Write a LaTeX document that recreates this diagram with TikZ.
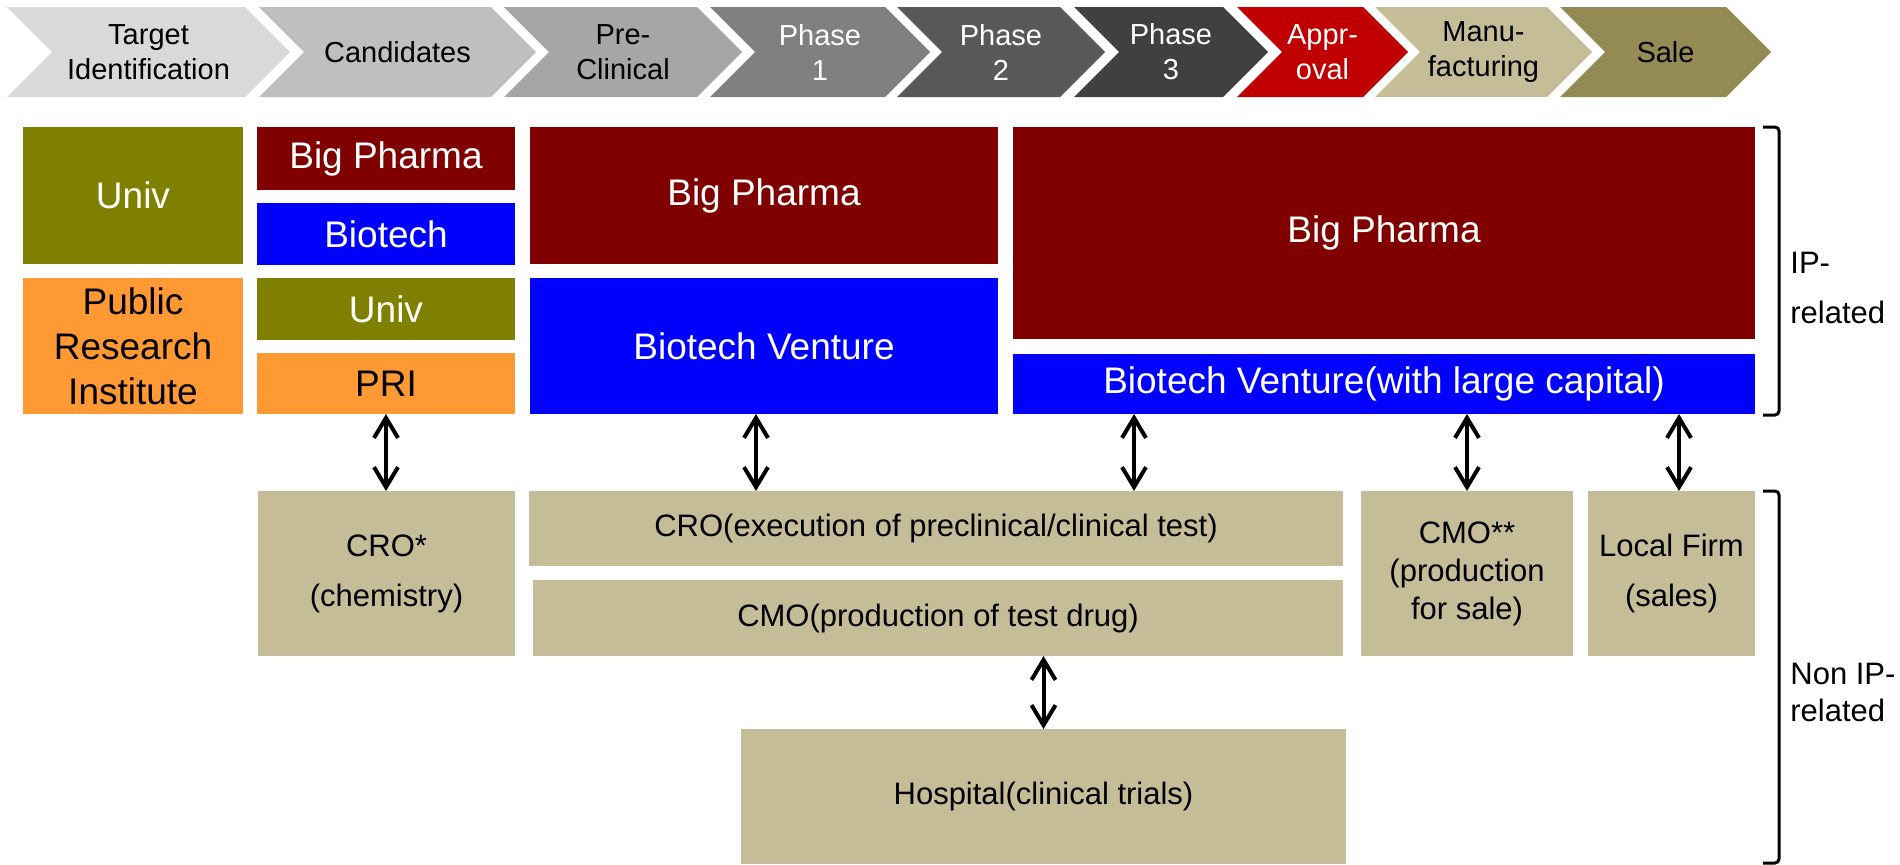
\documentclass[tikz,border=0pt]{standalone}
\usepackage{fontspec}
\setmainfont{Liberation Sans}
\usetikzlibrary{arrows.meta}

\definecolor{pharmared}{HTML}{800000}
\definecolor{biotechblue}{HTML}{0000FF}
\definecolor{univolive}{HTML}{808000}
\definecolor{priorange}{HTML}{FF9933}
\definecolor{servicetan}{HTML}{C4BD97}
\definecolor{approvalred}{HTML}{C00000}
\definecolor{saleolive}{HTML}{948A54}

\begin{document}
\begin{tikzpicture}[x=0.5pt, y=-0.5pt,
    stage/.style={align=center, font=\fontsize{14.5}{17.5}\selectfont},
    actor/.style={rectangle, inner sep=0pt, outer sep=0pt, align=center,
        text=white, font=\fontsize{18.5}{22.5}\selectfont},
    service/.style={rectangle, fill=servicetan, inner sep=0pt, outer sep=0pt,
        align=center, font=\fontsize{15.5}{19}\selectfont},
    side/.style={anchor=west, align=left, inner sep=0pt,
        font=\fontsize{15.5}{18.5}\selectfont},
    duplex/.style={line width=2pt,
        {Straight Barb[length=10pt,width=12pt]}-{Straight Barb[length=10pt,width=12pt]}},
    bracket/.style={line width=1.5pt, rounded corners=2pt}]
        \useasboundingbox (0,0) rectangle (1900,864);
        % stage chevrons along the top, with labels
        \fill[black!15] (7,7) -- ++(238,0) -- ++(45,45) -- ++(-45,45) -- ++(-238,0) -- ++(45,-45) -- cycle;
        \node[stage] (target) at (148.5,52) {Target\\Identification};
        \fill[black!25] (259,7) -- ++(232,0) -- ++(45,45) -- ++(-45,45) -- ++(-232,0) -- ++(45,-45) -- cycle;
        \node[stage] (cand) at (397.5,52) {Candidates};
        \fill[black!35] (504,7) -- ++(193,0) -- ++(45,45) -- ++(-45,45) -- ++(-193,0) -- ++(45,-45) -- cycle;
        \node[stage] (precl) at (623,52) {Pre-\\Clinical};
        \fill[black!50] (710,7) -- ++(175,0) -- ++(45,45) -- ++(-45,45) -- ++(-175,0) -- ++(45,-45) -- cycle;
        \node[stage, text=white] (ph1) at (820,52) {Phase\\1};
        \fill[black!65] (897,7) -- ++(163,0) -- ++(45,45) -- ++(-45,45) -- ++(-163,0) -- ++(45,-45) -- cycle;
        \node[stage, text=white] (ph2) at (1001,52) {Phase\\2};
        \fill[black!75] (1074,7) -- ++(149,0) -- ++(45,45) -- ++(-45,45) -- ++(-149,0) -- ++(45,-45) -- cycle;
        \node[stage, text=white] (ph3) at (1171,52) {Phase\\3};
        \fill[approvalred] (1237,7) -- ++(126,0) -- ++(45,45) -- ++(-45,45) -- ++(-126,0) -- ++(45,-45) -- cycle;
        \node[stage, text=white] (appr) at (1322.5,52) {Appr-\\oval};
        \fill[servicetan] (1375,7) -- ++(172,0) -- ++(45,45) -- ++(-45,45) -- ++(-172,0) -- ++(45,-45) -- cycle;
        \node[stage] (manu) at (1483.5,52) {Manu-\\facturing};
        \fill[saleolive] (1560,7) -- ++(166,0) -- ++(45,45) -- ++(-45,45) -- ++(-166,0) -- ++(45,-45) -- cycle;
        \node[stage] (sale) at (1665.5,52) {Sale};
        % target identification column
        \node[actor, fill=univolive, minimum width=110pt, minimum height=68.5pt] (univ1) at (133,195.5) {Univ};
        \node[actor, fill=priorange, text=black, minimum width=110pt, minimum height=68pt] (pri1) at (133,346) {Public\\Research\\Institute};
        % candidates column
        \node[actor, fill=pharmared, minimum width=129pt, minimum height=31.5pt] (pharma1) at (386,158.5) {Big Pharma};
        \node[actor, fill=biotechblue, minimum width=129pt, minimum height=31pt] (biotech1) at (386,234) {Biotech};
        \node[actor, fill=univolive, minimum width=129pt, minimum height=31pt] (univ2) at (386,309) {Univ};
        \node[actor, fill=priorange, text=black, minimum width=129pt, minimum height=30.5pt] (pri2) at (386,383.5) {PRI};
        % preclinical to phase 1
        \node[actor, fill=pharmared, minimum width=234pt, minimum height=68.5pt] (pharma2) at (764,195.5) {Big Pharma};
        \node[actor, fill=biotechblue, minimum width=234pt, minimum height=68pt] (venture1) at (764,346) {Biotech Venture};
        % phase 2 to sale
        \node[actor, fill=pharmared, minimum width=371pt, minimum height=106pt] (pharma3) at (1384,233) {Big Pharma};
        \node[actor, fill=biotechblue, minimum width=371pt, minimum height=30pt] (venture2) at (1384,384) {Biotech Venture(with large capital)};
        % non IP-related service firms
        \node[service, minimum width=128.5pt, minimum height=82.5pt] (cro1) at (386.5,573.5) {CRO*\\[6pt](chemistry)};
        \node[service, minimum width=407pt, minimum height=37.5pt] (cro2) at (936,528.5) {CRO(execution of preclinical/clinical test)};
        \node[service, minimum width=405pt, minimum height=38pt] (cmo1) at (938,618) {CMO(production of test drug)};
        \node[service, minimum width=106pt, minimum height=82.5pt] (cmo2) at (1467,573.5) {CMO**\\(production\\for sale)};
        \node[service, minimum width=83.5pt, minimum height=82.5pt] (local) at (1671.5,573.5) {Local Firm\\[6pt](sales)};
        \node[service, minimum width=302.5pt, minimum height=67.5pt] (hosp) at (1043.5,796.5) {Hospital(clinical trials)};
        % two-way links between the rows
        \draw[duplex] (pri2.south) -- (pri2.south |- cro1.north);
        \draw[duplex] ([xshift=-4pt]venture1.south) -- ([xshift=-4pt]venture1.south |- cro2.north);
        \draw[duplex] ([xshift=-125pt]venture2.south) -- ([xshift=-125pt]venture2.south |- cro2.north);
        \draw[duplex] (cmo2.north |- venture2.south) -- (cmo2.north);
        \draw[duplex] ([xshift=3.75pt]local.north |- venture2.south) -- ([xshift=3.75pt]local.north);
        \draw[duplex] (hosp.north |- cmo1.south) -- (hosp.north);
        % brackets on the right, with labels
        \draw[bracket] (1763,127) -- (1779,127) -- (1779,415) -- (1763,415);
        \node[side] (iplabel) at (1790,287.5) {IP-\\[6.5pt]related};
        \draw[bracket] (1763,491) -- (1779,491) -- (1779,863) -- (1763,863);
        \node[side] (noniplabel) at (1790,692.5) {Non IP-\\related};
    \end{tikzpicture}
\end{document}
